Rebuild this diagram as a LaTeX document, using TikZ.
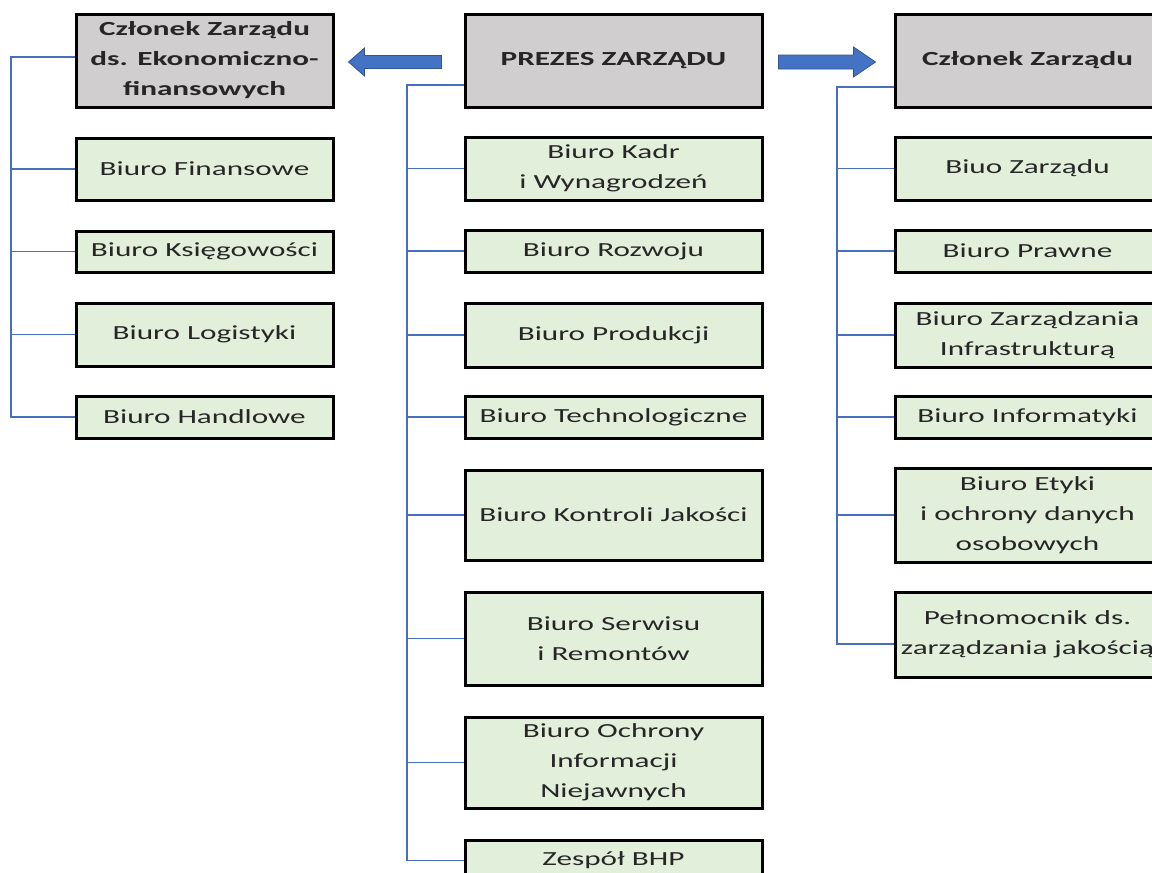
\documentclass[tikz,border=0pt]{standalone}
\usepackage{fontspec}
\setmainfont{Carlito}[FakeStretch=1.56]
\usetikzlibrary{calc}
\definecolor{boxgreen}{HTML}{E2EFDA}
\definecolor{boxgray}{HTML}{D0CECE}
\definecolor{linkblue}{HTML}{4A6EBE}
\definecolor{arrowblue}{HTML}{4472C4}
\definecolor{arrowedge}{HTML}{2F5597}
\definecolor{txt}{HTML}{262626}
\tikzset{
  unit/.style={draw=black, line width=3pt, fill=boxgreen, text=txt, align=center,
    inner sep=0pt, font=\fontsize{20}{30}\selectfont},
  headunit/.style={unit, fill=boxgray, font=\fontsize{20}{30}\selectfont\bfseries},
  lcol/.style={minimum width=257pt},
  ccol/.style={minimum width=297pt},
  rcol/.style={minimum width=265pt},
  link/.style={draw=linkblue, line width=1.1pt},
  blockarrow/.style={fill=arrowblue, draw=arrowedge, line width=0.8pt, line join=miter},
}
\begin{document}
\begin{tikzpicture}[x=1pt,y=-1pt]
\useasboundingbox (0,0) rectangle (1152,873);
\fill[white] (0,0) rectangle (1152,873);

% left column
\node[headunit, lcol, minimum height=93pt] (L0) at (204.5,60.5) {Członek Zarządu\\ds. Ekonomiczno-\\finansowych};
\node[unit, lcol, minimum height=62pt] (L1) at (204.5,169) {Biuro Finansowe};
\node[unit, lcol, minimum height=41pt] (L2) at (204.5,251.5) {Biuro Księgowości};
\node[unit, lcol, minimum height=63pt] (L3) at (204.5,334.5) {Biuro Logistyki};
\node[unit, lcol, minimum height=42pt] (L4) at (204.5,417) {Biuro Handlowe};

% center column
\node[headunit, ccol, minimum height=93pt] (C0) at (613.5,60.5) {PREZES ZARZĄDU};
\node[unit, ccol, minimum height=63pt] (C1) at (613.5,168.5) {Biuro Kadr\\i Wynagrodzeń};
\node[unit, ccol, minimum height=42pt] (C2) at (613.5,251) {Biuro Rozwoju};
\node[unit, ccol, minimum height=64pt] (C3) at (613.5,335) {Biuro Produkcji};
\node[unit, ccol, minimum height=42pt] (C4) at (613.5,417) {Biuro Technologiczne};
\node[unit, ccol, minimum height=90pt] (C5) at (613.5,515) {Biuro Kontroli Jakości};
\node[unit, ccol, minimum height=93pt] (C6) at (613.5,638.5) {Biuro Serwisu\\i Remontów};
\node[unit, ccol, minimum height=91pt] (C7) at (613.5,762.5) {Biuro Ochrony\\Informacji\\Niejawnych};
\node[unit, ccol, minimum height=41pt] (C8) at (613.5,860.5) {Zespół BHP};

% right column
\node[headunit, rcol, minimum height=93pt] (R0) at (1027.5,60.5) {Członek Zarządu};
\node[unit, rcol, minimum height=63pt] (R1) at (1027.5,168.5) {Biuo Zarządu};
\node[unit, rcol, minimum height=42pt] (R2) at (1027.5,251) {Biuro Prawne};
\node[unit, rcol, minimum height=64pt] (R3) at (1027.5,335) {Biuro Zarządzania\\Infrastrukturą};
\node[unit, rcol, minimum height=42pt] (R4) at (1027.5,417) {Biuro Informatyki};
\node[unit, rcol, minimum height=94pt] (R5) at (1027.5,515) {Biuro Etyki\\i ochrony danych\\osobowych};
\node[unit, rcol, minimum height=85pt] (R6) at (1027.5,634.5) {Pełnomocnik ds.\\zarządzania jakością};

% left connectors
\coordinate (lsp) at (11,0);
\coordinate (l0l) at ([yshift=3.5pt]L0.west);
\draw[link] (l0l) -- (l0l -| lsp) -- (L4.west -| lsp) -- (L4.west);
\foreach \n in {L1,L2,L3} \draw[link] (\n.west) -- (\n.west -| lsp);

% center connectors
\coordinate (csp) at (407,0);
\coordinate (c0l) at ([yshift=-24.5pt]C0.west);
\draw[link] (c0l) -- (c0l -| csp) -- (C8.west -| csp) -- (C8.west);
\foreach \n in {C1,C2,C3,C4,C5,C6,C7} \draw[link] (\n.west) -- (\n.west -| csp);

% right connectors
\coordinate (rsp) at (837,0);
\coordinate (r0l) at ([yshift=-26.5pt]R0.west);
\coordinate (r6l) at ([yshift=-9.5pt]R6.west);
\draw[link] (r0l) -- (r0l -| rsp) -- (r6l -| rsp) -- (r6l);
\foreach \n in {R1,R2,R3,R4,R5} \draw[link] (\n.west) -- (\n.west -| rsp);

% block arrows
\coordinate (la) at ([xshift=-22pt,yshift=-1.5pt]C0.west);
\coordinate (lt) at ([xshift=14pt,yshift=-1.5pt]L0.east);
\draw[blockarrow] ($(la)+(0,-6.5)$) -- ($(lt)+(16,-6.5)$) -- ($(lt)+(16,-14)$) -- (lt)
  -- ($(lt)+(16,14)$) -- ($(lt)+(16,6.5)$) -- ($(la)+(0,6.5)$) -- cycle;
\coordinate (ra) at ([xshift=15pt,yshift=-1.5pt]C0.east);
\coordinate (rt) at ([xshift=-18pt,yshift=-1.5pt]R0.west);
\draw[blockarrow] ($(ra)+(0,-7)$) -- ($(rt)+(-22,-7)$) -- ($(rt)+(-22,-15)$) -- (rt)
  -- ($(rt)+(-22,15)$) -- ($(rt)+(-22,7)$) -- ($(ra)+(0,7)$) -- cycle;
\end{tikzpicture}
\end{document}
